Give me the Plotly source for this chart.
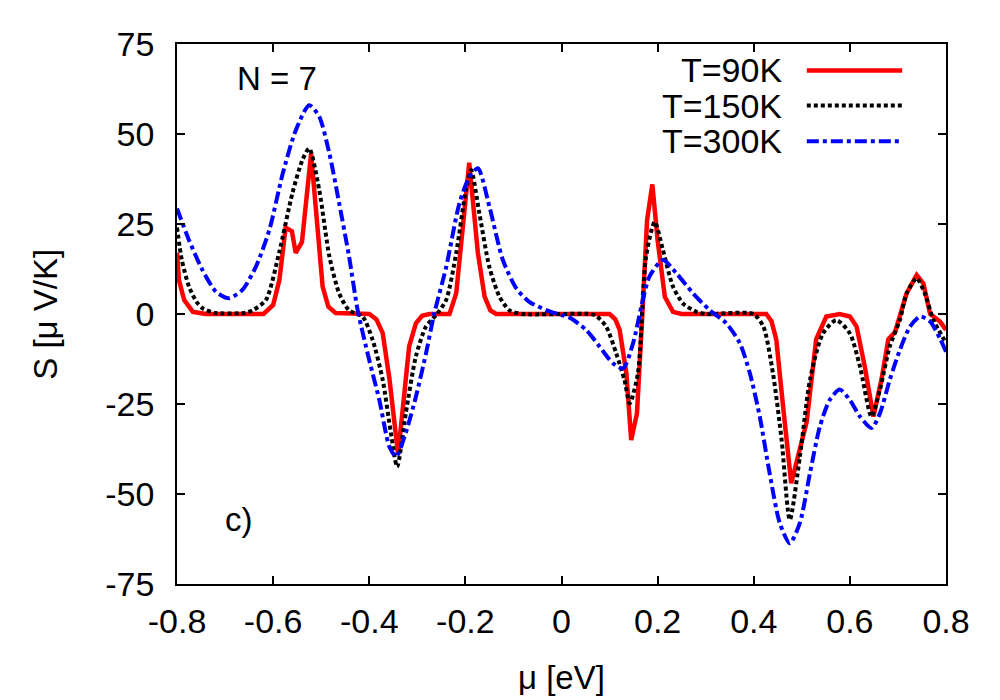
import plotly.graph_objects as go

# T = 90 K
mu_90 = [-0.80, -0.796, -0.785, -0.767, -0.74, -0.62, -0.60, -0.587, -0.574, -0.561,
         -0.553, -0.540, -0.521, -0.508, -0.497, -0.485, -0.47, -0.40, -0.385, -0.372,
         -0.358, -0.340, -0.317, -0.303, -0.29, -0.275, -0.233, -0.219, -0.206, -0.192,
         -0.174, -0.160, -0.148, -0.136, 0.10, 0.112, 0.121, 0.135, 0.145, 0.157,
         0.169, 0.178, 0.189, 0.200, 0.215, 0.232, 0.25, 0.426, 0.437, 0.447,
         0.461, 0.478, 0.51, 0.53, 0.551, 0.579, 0.60, 0.614, 0.631, 0.649,
         0.666, 0.680, 0.694, 0.718, 0.739, 0.753, 0.767, 0.7875, 0.80]
s_90 = [17, 9.4, 3.9, 0.6, 0, 0, 2.5, 9.4, 24, 23,
        17, 20, 44.5, 25, 7.6, 2, 0.3, 0, -1.5, -5.3,
        -18, -39, -9, -2.6, -0.5, 0, 0, 5.8, 23, 42,
        17, 4.8, 1, 0, 0, -1.5, -4.4, -16.5, -35, -27.6,
        2, 26, 36, 20.5, 4.8, 0.6, 0, 0, -2, -7.2,
        -25.7, -47, -30, -7, -0.7, 0, -0.7, -3.5, -14.6, -28.5,
        -18, -7, -5, 5.7, 10.8, 8.5, 0, -2.1, -4.4]

# T = 150 K
mu_150 = [-0.80, -0.79, -0.775, -0.76, -0.747, -0.72, -0.66, -0.643, -0.615, -0.5875,
          -0.56, -0.539, -0.525, -0.504, -0.483, -0.4625, -0.442, -0.414, -0.393, -0.372,
          -0.355, -0.342, -0.324, -0.303, -0.282, -0.261, -0.24, -0.219, -0.199, -0.188,
          -0.171, -0.15, -0.129, -0.108, -0.08, 0.06, 0.072, 0.093, 0.114, 0.131,
          0.142, 0.159, 0.176, 0.194, 0.211, 0.232, 0.253, 0.281, 0.30, 0.399,
          0.42, 0.44, 0.458, 0.475, 0.496, 0.517, 0.544, 0.572, 0.60, 0.621,
          0.645, 0.6625, 0.683, 0.704, 0.718, 0.739, 0.756, 0.774, 0.80]
s_150 = [24, 15, 7.6, 3.5, 1.6, 0.3, 0.3, 1, 3.9, 17,
         33.5, 42.8, 46, 34.4, 16, 5.7, 1, -0.7, -7.2, -18.3,
         -33, -42.4, -27.6, -11.8, -3.5, -0.3, 3.9, 17, 34.4, 40,
         28, 13, 4.8, 1, 0, 0, -0.5, -3.5, -11, -18.3,
         -24.8, -16.5, 16, 25.6, 17.8, 7.6, 2.9, 0.6, 0, 0,
         -3.5, -16.5, -35, -57.2, -39.6, -18.3, -5.4, -1.7, -5.4, -14.6,
         -28.5, -21, -9, -1.7, 5.7, 9.9, 5.7, -1.7, -8]

# T = 300 K
mu_300 = [-0.80, -0.775, -0.747, -0.719, -0.692, -0.664, -0.636, -0.608, -0.58, -0.553,
          -0.525, -0.504, -0.483, -0.4625, -0.442, -0.424, -0.40, -0.379, -0.358, -0.344,
          -0.324, -0.303, -0.282, -0.265, -0.24, -0.2125, -0.192, -0.174, -0.15, -0.122,
          -0.094, -0.067, -0.032, 0.0, 0.017, 0.051, 0.079, 0.107, 0.128, 0.149,
          0.166, 0.183, 0.211, 0.239, 0.274, 0.308, 0.343, 0.371, 0.392, 0.4125,
          0.433, 0.454, 0.475, 0.496, 0.517, 0.5375, 0.558, 0.579, 0.60, 0.621,
          0.645, 0.6625, 0.683, 0.704, 0.725, 0.746, 0.767, 0.7875, 0.80]
s_300 = [29.3, 20.5, 12.2, 6.2, 4.4, 6.7, 13.1, 23.3, 39, 51,
         58, 54.8, 44.6, 30.7, 16, 1, -12.8, -23.9, -36.9, -39.6,
         -33, -23, -11, 0, 13, 30.7, 38, 40.5, 29.8, 15,
         7.1, 3.4, 1.1, -0.3, -1, -4.4, -9, -13.7, -15.1, -8.1,
         2, 10.4, 15, 11.3, 5.7, 1.1, -2.6, -8.1, -16.5, -28.5,
         -44.2, -58, -63.7, -58, -44.2, -31.3, -23.9, -21, -23.9, -28.5,
         -31.7, -27.6, -18.3, -10, -3.5, -0.7, -2.1, -6.8, -10.5]

x_ticks = [-0.8, -0.6, -0.4, -0.2, 0, 0.2, 0.4, 0.6, 0.8]
x_labels = ['-0.8', '-0.6', '-0.4', '-0.2', '0', '0.2', '0.4', '0.6', '0.8']
y_ticks = [-75, -50, -25, 0, 25, 50, 75]
y_labels = ['-75', '-50', '-25', '0', '25', '50', '75']
legend_names = ['T=90K', 'T=150K', 'T=300K']

FONT = 'Liberation Sans, Arial, sans-serif'
red = '#ff0000'
black = '#000000'
blue = '#0000ff'

fig = go.Figure()

fig.add_trace(go.Scatter(x=mu_90, y=s_90, mode='lines', name=legend_names[0],
                         line=dict(color=red, width=4.5)))
fig.add_trace(go.Scatter(x=mu_150, y=s_150, mode='lines', name=legend_names[1],
                         line=dict(color=black, width=4, dash='4px,3px',
                                   shape='spline', smoothing=0.7)))
fig.add_trace(go.Scatter(x=mu_300, y=s_300, mode='lines', name=legend_names[2],
                         line=dict(color=blue, width=4, dash='12px,4px,4px,4px',
                                   shape='spline', smoothing=0.7)))

# gnuplot-style key: text on the left, line sample on the right
key_styles = [dict(color=red, width=4.5),
              dict(color=black, width=4, dash='4px,3px'),
              dict(color=blue, width=4, dash='12px,4px,4px,4px')]
key_y = [0.951, 0.886, 0.820]
for name, style, ky in zip(legend_names, key_styles, key_y):
    fig.add_annotation(x=0.789, y=ky, xref='paper', yref='paper', text=name,
                       showarrow=False, xanchor='right', yanchor='middle',
                       font=dict(size=34, color='black', family=FONT))
    fig.add_shape(type='line', xref='paper', yref='paper',
                  x0=0.819, x1=0.943, y0=ky, y1=ky, line=style)

# panel labels
fig.add_annotation(x=0.13, y=0.937, xref='paper', yref='paper', text='N = 7',
                   showarrow=False, xanchor='center', yanchor='middle',
                   font=dict(size=33, color='black', family=FONT))
fig.add_annotation(x=0.08, y=0.12, xref='paper', yref='paper', text='c)',
                   showarrow=False, xanchor='center', yanchor='middle',
                   font=dict(size=33, color='black', family=FONT))

# axis titles
fig.add_annotation(x=-0.172, y=0.5, xref='paper', yref='paper', text='S [μ V/K]',
                   showarrow=False, textangle=-90, xanchor='center', yanchor='middle',
                   font=dict(size=33, color='black', family=FONT))
fig.add_annotation(x=0.5, y=-0.173, xref='paper', yref='paper', text='μ [eV]',
                   showarrow=False, xanchor='center', yanchor='middle',
                   font=dict(size=33, color='black', family=FONT))

axis_common = dict(showgrid=False, zeroline=False, showline=True, linecolor='black',
                   linewidth=1.5, mirror='allticks', ticks='inside', ticklen=8,
                   tickwidth=1.5, tickcolor='black',
                   tickfont=dict(size=34, color='black', family=FONT))

# the page puts the figure 8px in from the top-left corner
fig.update_layout(
    width=992, height=692,
    margin=dict(l=169, r=54, t=36, b=116),
    paper_bgcolor='white', plot_bgcolor='white',
    showlegend=False,
    font=dict(family=FONT, color='black'),
    xaxis=dict(range=[-0.8, 0.8], tickvals=x_ticks, ticktext=x_labels,
               ticklabelstandoff=6, **axis_common),
    yaxis=dict(range=[-75, 75], tickvals=y_ticks, ticktext=y_labels,
               ticklabelstandoff=14, **axis_common),
)

fig.write_html("out.html")
